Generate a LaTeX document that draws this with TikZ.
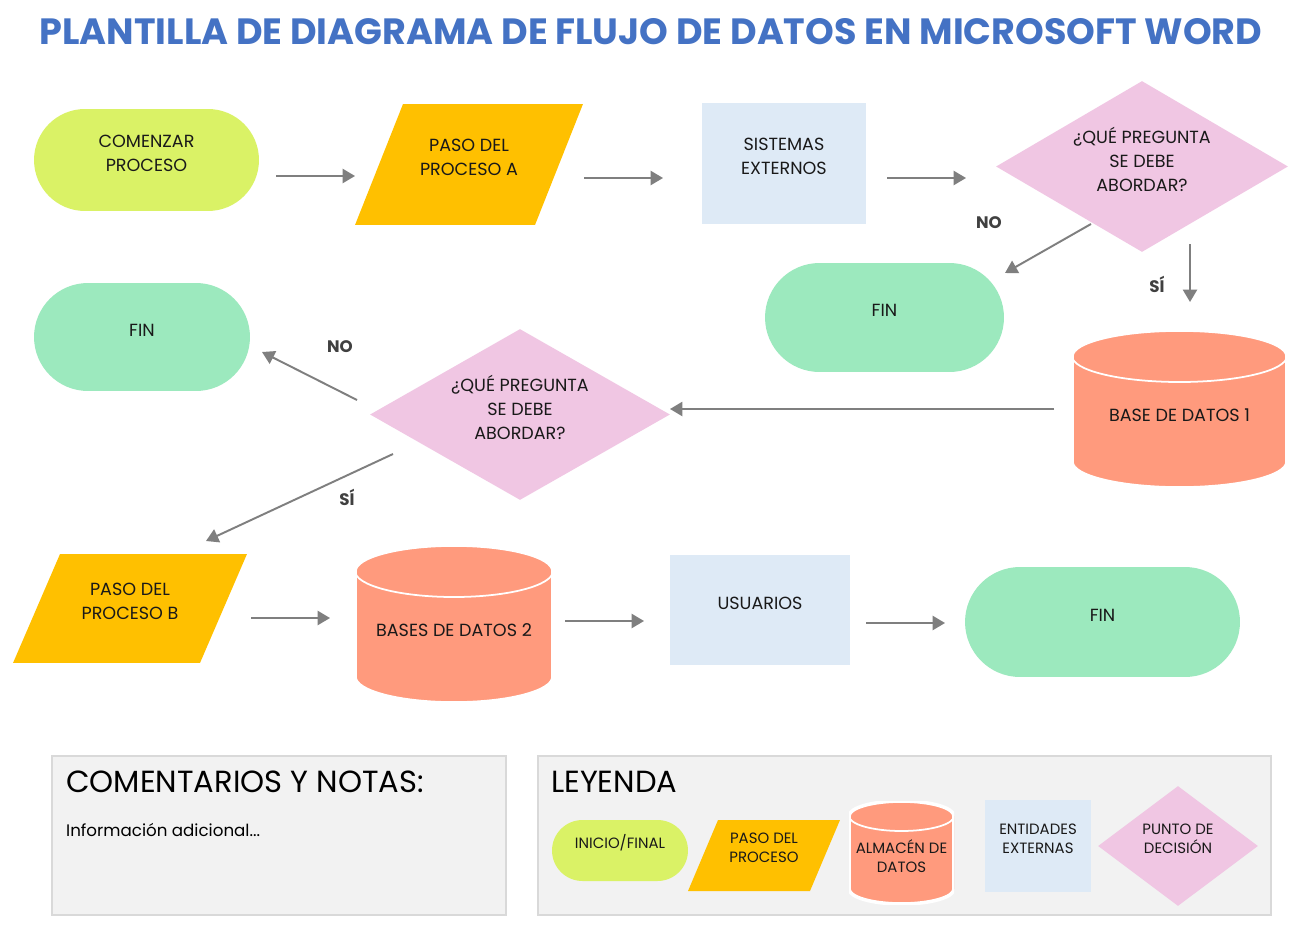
\documentclass[tikz,border=0pt]{standalone}
\usepackage{fontspec}
\setmainfont{Poppins}
\usepackage{tikz}
\usetikzlibrary{shapes, arrows.meta, positioning, calc}
\definecolor{lima}{HTML}{DAF266}
\definecolor{ambar}{HTML}{FFC000}
\definecolor{celeste}{HTML}{DEEAF6}
\definecolor{rosa}{HTML}{F0C6E3}
\definecolor{menta}{HTML}{9CE9BE}
\definecolor{salmon}{HTML}{FF9A7D}
\definecolor{gris}{HTML}{7F7F7F}
\definecolor{fondo}{HTML}{F2F2F2}
\definecolor{borde}{HTML}{D9D9D9}
\definecolor{titulo}{HTML}{4472C4}
\tikzstyle{term} = [rounded rectangle, fill=lima, inner sep=0pt]
\tikzstyle{fin} = [rounded rectangle, fill=menta, inner sep=0pt]
\tikzstyle{ext} = [rectangle, fill=celeste, inner sep=0pt]
\tikzstyle{dec} = [diamond, fill=rosa, inner sep=0pt]
\tikzstyle{caja} = [rectangle, fill=fondo, draw=borde, line width=0.8pt]
\tikzstyle{flecha} = [draw=gris, line width=1.1pt, -{Triangle[length=7pt,width=8pt]}]
\tikzstyle{rama} = [font=\bfseries\fontsize{9.5}{11}\selectfont, text=black!75]
\tikzset{
  % paralelogramo, #1 = desplazamiento de la arista superior
  paso/.style={rectangle, inner sep=0pt, path picture={
    \fill[ambar] ([xshift=#1]path picture bounding box.north west) -- (path picture bounding box.north east)
      -- ([xshift=-#1]path picture bounding box.south east) -- (path picture bounding box.south west) -- cycle;}},
  % cilindro, #1 = radio menor de la elipse
  datos/.style={rectangle, inner sep=0pt, path picture={
    \filldraw[fill=salmon, draw=white, line width=2pt] let \p1=(path picture bounding box.south west), \p2=(path picture bounding box.north east), \n1={(\x2-\x1)/2} in
      (\x1,\y1+#1) arc[start angle=180, end angle=360, x radius=\n1, y radius=#1] -- (\x2,\y2-#1)
      arc[start angle=0, end angle=180, x radius=\n1, y radius=#1] -- cycle;
    \draw[white, line width=1pt] let \p1=(path picture bounding box.south west), \p2=(path picture bounding box.north east), \n1={(\x2-\x1)/2} in
      (\x1,\y2-#1) arc[start angle=180, end angle=360, x radius=\n1, y radius=#1];}},
  txt/.style={align=center, font=\fontsize{10}{13.6}\selectfont, text=black!90, yshift=0.14cm},
  txtb/.style={txt, yshift=-0.26cm},
  ley/.style={align=center, font=\fontsize{8.5}{10.8}\selectfont, text=black!90, yshift=0.15cm},
  leyb/.style={ley, yshift=-0.22cm}
}

\begin{document}
\begin{tikzpicture}[x=0.02cm, y=-0.02cm]
\path[fill=white, use as bounding box] (0,0) rectangle (1304,929);

\node[font=\bfseries\fontsize{20.8}{24}\selectfont, text=titulo] (titulo) at (651,32) {PLANTILLA DE DIAGRAMA DE FLUJO DE DATOS EN MICROSOFT WORD};

% fila 1
\node[term, minimum width=4.5cm, minimum height=2.04cm, label={[txt]center:COMENZAR\\PROCESO}] (comenzar) at (146.5,160) {};
\node[paso=0.96cm, minimum width=4.56cm, minimum height=2.42cm, label={[txt]center:PASO DEL\\PROCESO A}] (pasoA) at (469,164.5) {};
\node[ext, minimum width=3.28cm, minimum height=2.42cm, label={[txt]center:SISTEMAS\\EXTERNOS}] (sistemas) at (784,163.5) {};
\node[dec, minimum width=5.84cm, minimum height=3.42cm, label={[txt]center:¿QUÉ PREGUNTA\\SE DEBE\\ABORDAR?}] (dec1) at (1142,166.5) {};

% fila 2
\node[fin, minimum width=4.78cm, minimum height=2.18cm, label={[txt]center:FIN}] (finM) at (884.5,317.5) {};
\node[datos=0.52cm, minimum width=4.3cm, minimum height=3.16cm, label={[txtb]center:BASE DE DATOS 1}] (bd1) at (1179.5,409) {};
\node[fin, minimum width=4.32cm, minimum height=2.16cm, label={[txt]center:FIN}] (finL) at (142,337) {};
\node[dec, minimum width=6cm, minimum height=3.42cm, label={[txt]center:¿QUÉ PREGUNTA\\SE DEBE\\ABORDAR?}] (dec2) at (520,414.5) {};

% fila 3
\node[paso=0.94cm, minimum width=4.68cm, minimum height=2.18cm, label={[txt]center:PASO DEL\\PROCESO B}] (pasoB) at (130,608.5) {};
\node[datos=0.52cm, minimum width=3.96cm, minimum height=3.16cm, label={[txtb]center:BASES DE DATOS 2}] (bd2) at (454,624) {};
\node[ext, minimum width=3.6cm, minimum height=2.2cm, label={[txt]center:USUARIOS}] (usuarios) at (760,610) {};
\node[fin, minimum width=5.5cm, minimum height=2.2cm, label={[txt]center:FIN}] (finB) at (1102.5,622) {};

% flechas
\draw[flecha] ([shift={(129.5,16)}]comenzar.center) -- ([shift={(-114,11.5)}]pasoA.center);
\draw[flecha] ([shift={(115,13.5)}]pasoA.center) -- ([shift={(-121,14.5)}]sistemas.center);
\draw[flecha] ([shift={(103,14.5)}]sistemas.center) -- ([shift={(-176,11.5)}]dec1.center);
\draw[flecha] ([shift={(-51,57.5)}]dec1.center) -- ([shift={(120.5,-44.5)}]finM.center);
\draw[flecha] ([shift={(48,77.5)}]dec1.center) -- ([shift={(10.5,-107)}]bd1.center);
\draw[flecha] ([shift={(-125.5,0)}]bd1.center) -- ([shift={(150,-5.5)}]dec2.center);
\draw[flecha] ([shift={(-163,-14.5)}]dec2.center) -- ([shift={(120,15)}]finL.center);
\draw[flecha] ([shift={(-127,39.5)}]dec2.center) -- ([shift={(76,-67.5)}]pasoB.center);
\draw[flecha] ([shift={(121,9.5)}]pasoB.center) -- ([shift={(-124,-6)}]bd2.center);
\draw[flecha] ([shift={(111,-3)}]bd2.center) -- ([shift={(-116,11)}]usuarios.center);
\draw[flecha] ([shift={(106,13)}]usuarios.center) -- ([shift={(-157.5,1)}]finB.center);

\node[rama] (no1) at (989,223) {NO};
\node[rama] (si1) at (1157,284) {SÍ};
\node[rama] (no2) at (340,347) {NO};
\node[rama] (si2) at (347,497) {SÍ};

% comentarios y leyenda
\node[caja, minimum width=9.08cm, minimum height=3.18cm] (notas) at (279,835.5) {};
\node[anchor=west, font=\fontsize{17.4}{20}\selectfont] (notasTit) at (60,782) {COMENTARIOS Y NOTAS:};
\node[anchor=west, font=\fontsize{9.5}{12}\selectfont] (notasTxt) at (60,830) {Información adicional...};

\node[caja, minimum width=14.66cm, minimum height=3.18cm] (leyenda) at (904.5,835.5) {};
\node[anchor=west, font=\fontsize{17.4}{20}\selectfont] (leyTit) at (545,782) {LEYENDA};
\node[term, minimum width=2.72cm, minimum height=1.22cm, label={[ley]center:INICIO/FINAL}] (legIni) at (620,850.5) {};
\node[paso=0.6cm, minimum width=3.04cm, minimum height=1.42cm, label={[ley]center:PASO DEL\\PROCESO}] (legPaso) at (764,855.5) {};
\node[datos=0.3cm, minimum width=2.1cm, minimum height=2.06cm, label={[leyb]center:ALMACÉN DE\\DATOS}] (legAlm) at (901.5,852.5) {};
\node[ext, minimum width=2.12cm, minimum height=1.84cm, label={[ley]center:ENTIDADES\\EXTERNAS}] (legEnt) at (1038,846) {};
\node[dec, minimum width=3.2cm, minimum height=2.4cm, label={[ley]center:PUNTO DE\\DECISIÓN}] (legDec) at (1178,846) {};
\end{tikzpicture}
\end{document}
